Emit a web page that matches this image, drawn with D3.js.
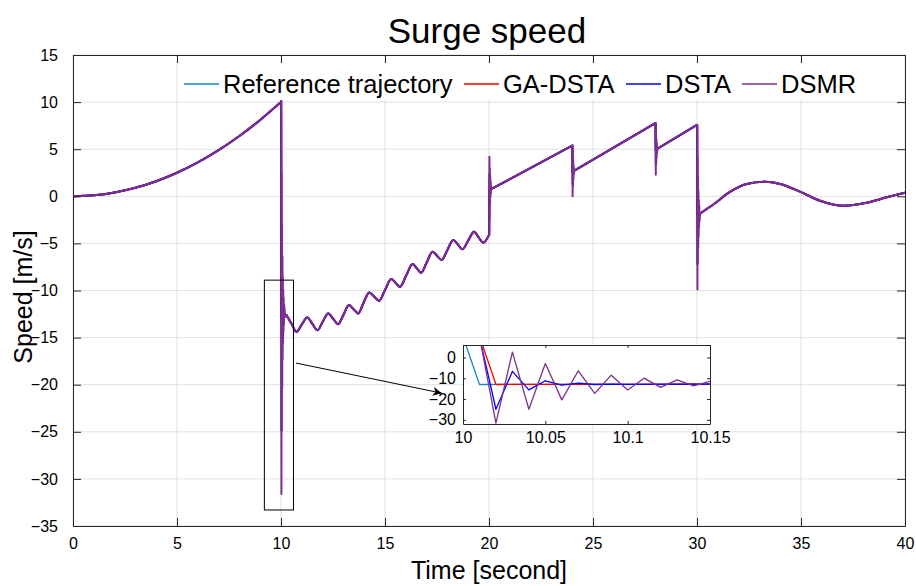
<!DOCTYPE html>
<html><head><meta charset="utf-8">
<script src="https://cdn.jsdelivr.net/npm/d3@7"></script>
<style>
body{margin:0;background:#fff}
svg{display:block}
text{font-family:"Liberation Sans",Arial,Helvetica,sans-serif;fill:#000}
</style>
</head><body>
<svg id="chart" width="916" height="586"></svg>
<script>
// ---------------- data ----------------
const xTicks = [0, 5, 10, 15, 20, 25, 30, 35, 40];
const yTicks = [-35, -30, -25, -20, -15, -10, -5, 0, 5, 10, 15];
const insetXTicks = [10, 10.05, 10.1, 10.15];
const insetXTickLabels = ["10", "10.05", "10.1", "10.15"];
const insetYTicks = [0, -10, -20, -30];
const seriesNames = ["Reference trajectory", "GA-DSTA", "DSTA", "DSMR"];
const seriesColors = ["#1188cc", "#ff0000", "#0000ff", "#7e2f8e"];

// reference trajectory (time in s, speed in m/s)
const refTime = [0, 1, 2, 3, 4, 5, 6, 7, 8, 9, 10,
  10.01, 10.05, 10.1, 10.15, 10.26, 10.5, 10.75, 11.0, 11.26, 11.51, 11.76, 12.01, 12.27, 12.51, 12.75,
  13.01, 13.27, 13.49, 13.71, 13.97, 14.24, 14.48, 14.72, 15.0, 15.3, 15.52, 15.72, 16.02, 16.33, 16.53,
  16.73, 17.01, 17.29, 17.5, 17.72, 18.0, 18.28, 18.5, 18.72, 19.0, 19.28, 19.5, 19.73, 20.0,
  20.01, 24.0, 24.01, 28.0, 28.01, 30.0, 30.01, 30.2, 30.8, 31.6, 32.39, 33.27, 34.0, 34.95, 35.91,
  37.03, 38.16, 39.12, 40.0];
const refSpeed = [0, 0.1, 0.4, 0.9, 1.6, 2.5, 3.6, 4.9, 6.4, 8.1, 10.0,
  -13.0, -12.95, -12.9, -12.85, -12.6, -13.5, -14.39, -13.6, -12.86, -13.55, -14.21, -13.3, -12.43, -13.0, -13.57,
  -12.55, -11.55, -12.0, -12.43, -11.3, -10.2, -10.65, -11.09, -9.95, -8.79, -9.2, -9.6, -8.4, -7.19, -7.65,
  -8.12, -7.0, -5.88, -6.3, -6.77, -5.7, -4.64, -5.1, -5.63, -4.7, -3.76, -4.35, -4.93, -4.1,
  0.65, 5.38, 2.6, 7.76, 4.92, 7.58, -2.0, -1.75, -0.85, 0.49, 1.31, 1.55, 1.31, 0.49, -0.47,
  -1.0, -0.68, -0.11, 0.38];

// controller transients after each reference switch
const gaTime = [10.00, 10.01, 10.02, 10.05, 10.1, 10.15, 10.2,
  20.00, 20.01, 20.02, 20.12,
  24.00, 24.01, 24.02, 24.1,
  28.00, 28.01, 28.02, 28.1,
  30.00, 30.01, 30.02, 30.15];
const gaSpeed = [10, 10.3, -13.0, -12.95, -12.9, -12.85, -12.7,
  -4.1, -4.1, 0.67, 0.78,
  5.38, 5.38, 2.62, 2.73,
  7.76, 7.76, 4.94, 5.05,
  7.58, 7.58, -2.0, -1.85];

const dstaTime = [10.00, 10.01, 10.02, 10.03, 10.04, 10.05, 10.06, 10.07, 10.08, 10.09, 10.10, 10.15, 10.2,
  20.00, 20.01, 20.02, 20.03, 20.04, 20.05, 20.06, 20.08, 20.12,
  24.00, 24.01, 24.02, 24.03, 24.04, 24.05, 24.07, 24.1,
  28.00, 28.01, 28.02, 28.03, 28.04, 28.05, 28.07, 28.1,
  30.00, 30.01, 30.02, 30.03, 30.04, 30.05, 30.06, 30.08, 30.15];
const dstaSpeed = [10, 10, -24.9, -6.7, -15.6, -11.2, -13.3, -12.3, -13.0, -12.8, -12.9, -12.85, -12.7,
  -4.1, -4.1, 2.4, -0.4, 1.4, 0.4, 0.9, 0.7, 0.78,
  5.38, 5.38, 1.3, 3.4, 2.2, 2.8, 2.6, 2.73,
  7.76, 7.76, 3.4, 5.9, 4.5, 5.1, 4.95, 5.05,
  7.58, 7.58, -7.2, 0.8, -4.0, -0.8, -2.6, -1.8, -1.85];

const dsmrTime = [10.00, 10.01, 10.02, 10.03, 10.04, 10.05, 10.06, 10.07, 10.08, 10.09, 10.10, 10.11, 10.12, 10.13, 10.14, 10.15, 10.2,
  20.00, 20.01, 20.02, 20.03, 20.04, 20.05, 20.06, 20.07, 20.08, 20.09, 20.10, 20.12,
  24.00, 24.01, 24.02, 24.03, 24.04, 24.05, 24.06, 24.07, 24.08, 24.1,
  28.00, 28.01, 28.02, 28.03, 28.04, 28.05, 28.06, 28.07, 28.08, 28.1,
  30.00, 30.01, 30.02, 30.03, 30.04, 30.05, 30.06, 30.07, 30.08, 30.09, 30.10, 30.11, 30.12, 30.15];
const dsmrSpeed = [10, 10.2, -31.6, 2.6, -24.9, -2.9, -20.4, -6.4, -17.3, -8.5, -15.6, -9.95, -14.4, -10.8, -13.7, -11.5, -12.7,
  -4.1, -4.1, 4.2, -2.2, 3.0, -0.9, 2.2, -0.1, 1.6, 0.3, 1.1, 0.78,
  5.38, 5.38, 0.0, 4.6, 1.1, 3.9, 1.8, 3.3, 2.3, 2.73,
  7.76, 7.76, 2.3, 6.9, 3.4, 6.1, 4.1, 5.6, 4.6, 5.05,
  7.58, 7.58, -9.9, 4.0, -7.1, 2.0, -5.5, 0.6, -4.3, -0.4, -3.3, -1.0, -2.7, -1.85];

// time windows in which the controllers deviate from the reference
const transientWindows = [[10, 10.2], [20, 20.12], [24, 24.1], [28, 28.1], [30, 30.15]];
// spans where the trajectory is a smooth curve (others are straight segments)
const smoothSpans = [[0, 10], [10.26, 20], [30.2, 40]];

// zoom rectangle and arrow annotation (data coordinates of the main axes)
const zoomRectT = [9.2, 10.6];
const zoomRectV = [-33.3, -8.9];
const arrowT = [10.72, 17.73];
const arrowV = [-17.7, -20.9];

// ---------------- build series ----------------
const EPS = 1e-9;
function buildSeries(tt, vv) {
  const inWin = t => transientWindows.some(([a, b]) => t >= a - EPS && t <= b + EPS);
  const pts = refTime.map((t, i) => ({t, v: refSpeed[i]})).filter(p => !inWin(p.t));
  tt.forEach((t, i) => pts.push({t, v: vv[i]}));
  pts.sort((a, b) => a.t - b.t);
  return pts;
}
const series = [
  refTime.map((t, i) => ({t, v: refSpeed[i]})),
  buildSeries(gaTime, gaSpeed),
  buildSeries(dstaTime, dstaSpeed),
  buildSeries(dsmrTime, dsmrSpeed)
];

function pathFor(pts, x, y, allowSmooth) {
  const isSmooth = (a, b) => allowSmooth && smoothSpans.some(([s, e]) => a.t >= s - EPS && b.t <= e + EPS);
  const runs = [];
  let cur = [pts[0]], curType = null;
  for (let i = 1; i < pts.length; i++) {
    const type = isSmooth(pts[i - 1], pts[i]);
    if (curType === null || type === curType) { cur.push(pts[i]); curType = type; }
    else { runs.push({pts: cur, smooth: curType}); cur = [pts[i - 1], pts[i]]; curType = type; }
  }
  runs.push({pts: cur, smooth: curType});
  let d = "";
  runs.forEach((r, k) => {
    const gen = d3.line().x(p => x(p.t)).y(p => y(p.v))
      .curve(r.smooth ? d3.curveMonotoneX : d3.curveLinear);
    let s = gen(r.pts);
    if (k > 0) s = "L" + s.slice(1);
    d += s;
  });
  return d;
}

// ---------------- main axes ----------------
const svg = d3.select("#chart");
const M = {left: 73, right: 905, top: 55, bottom: 526};
const x = d3.scaleLinear().domain([0, 40]).range([M.left, M.right]);
const y = d3.scaleLinear().domain([-35, 15]).range([M.bottom, M.top]);
const axisColor = "#262626";
const tickLen = 8;

svg.append("rect").attr("width", 916).attr("height", 586).attr("fill", "#fff");

// grid
const grid = svg.append("g").attr("stroke", "#e1e1e1").attr("stroke-width", 1);
xTicks.forEach(t => grid.append("line").attr("x1", x(t)).attr("x2", x(t)).attr("y1", M.top).attr("y2", M.bottom));
yTicks.forEach(t => grid.append("line").attr("y1", y(t)).attr("y2", y(t)).attr("x1", M.left).attr("x2", M.right));

// data lines
svg.append("clipPath").attr("id", "mainClip").append("rect")
  .attr("x", M.left).attr("y", M.top).attr("width", M.right - M.left).attr("height", M.bottom - M.top);
const lineG = svg.append("g").attr("clip-path", "url(#mainClip)");
series.forEach((pts, i) => {
  lineG.append("path").attr("d", pathFor(pts, x, y, true))
    .attr("fill", "none").attr("stroke", seriesColors[i]).attr("stroke-width", 2)
    .attr("stroke-linejoin", "round");
});

// axes with inward ticks on all sides
const axB = d3.axisBottom(x).tickValues(xTicks).tickSizeInner(-tickLen).tickSizeOuter(0).tickPadding(12);
const axT = d3.axisTop(x).tickValues(xTicks).tickSizeInner(-tickLen).tickSizeOuter(0).tickFormat("");
const axL = d3.axisLeft(y).tickValues(yTicks).tickSizeInner(-tickLen).tickSizeOuter(0).tickPadding(15);
const axR = d3.axisRight(y).tickValues(yTicks).tickSizeInner(-tickLen).tickSizeOuter(0).tickFormat("");
function styleAxis(g) {
  g.selectAll("path").attr("stroke", axisColor).attr("stroke-width", 1);
  g.selectAll("line").attr("stroke", axisColor).attr("stroke-width", 1);
  g.selectAll("text").attr("fill", axisColor).style("font-size", "16px")
    .style("font-family", '"Liberation Sans",Arial,Helvetica,sans-serif');
}
svg.append("g").attr("transform", `translate(0,${M.bottom})`).call(axB).call(styleAxis);
svg.append("g").attr("transform", `translate(0,${M.top})`).call(axT).call(styleAxis);
svg.append("g").attr("transform", `translate(${M.left},0)`).call(axL).call(styleAxis);
svg.append("g").attr("transform", `translate(${M.right},0)`).call(axR).call(styleAxis);

// titles
svg.append("text").attr("x", 487).attr("y", 43).attr("text-anchor", "middle")
  .style("font-size", "35px").text("Surge speed");
svg.append("text").attr("x", 489).attr("y", 579).attr("text-anchor", "middle")
  .style("font-size", "25px").text("Time [second]");
svg.append("text").attr("transform", "translate(32,297) rotate(-90)").attr("text-anchor", "middle")
  .style("font-size", "25px").text("Speed [m/s]");

// legend
const legend = svg.append("g");
legend.append("rect").attr("x", 180).attr("y", 63).attr("width", 682).attr("height", 37).attr("fill", "#fff");
const legLineX = [184, 464, 626, 742];
const legLineLen = 35;
seriesNames.forEach((name, i) => {
  legend.append("line").attr("x1", legLineX[i]).attr("x2", legLineX[i] + legLineLen)
    .attr("y1", 84).attr("y2", 84).attr("stroke", seriesColors[i]).attr("stroke-width", 1.5);
  legend.append("text").attr("x", legLineX[i] + legLineLen + 4).attr("y", 93)
    .style("font-size", "25.5px").text(name);
});

// zoom rectangle and arrow
svg.append("rect").attr("x", x(zoomRectT[0])).attr("y", y(zoomRectV[1]))
  .attr("width", x(zoomRectT[1]) - x(zoomRectT[0])).attr("height", y(zoomRectV[0]) - y(zoomRectV[1]))
  .attr("fill", "none").attr("stroke", "#000").attr("stroke-width", 1);
svg.append("defs").append("marker").attr("id", "arrowHead")
  .attr("viewBox", "0 0 10 10").attr("refX", 10).attr("refY", 5)
  .attr("markerWidth", 13).attr("markerHeight", 9).attr("markerUnits", "userSpaceOnUse")
  .attr("orient", "auto")
  .append("path").attr("d", "M0,0 L10,5 L0,10 L3,5 Z").attr("fill", "#000");
svg.append("line").attr("x1", x(arrowT[0])).attr("y1", y(arrowV[0]))
  .attr("x2", x(arrowT[1])).attr("y2", y(arrowV[1]))
  .attr("stroke", "#000").attr("stroke-width", 1).attr("marker-end", "url(#arrowHead)");

// ---------------- inset axes ----------------
const I = {left: 463, right: 710, top: 345, bottom: 424};
const xi = d3.scaleLinear().domain([10, 10.15]).range([I.left, I.right]);
const yi = d3.scaleLinear().domain([-32, 6]).range([I.bottom, I.top]);
svg.append("rect").attr("x", I.left).attr("y", I.top).attr("width", I.right - I.left)
  .attr("height", I.bottom - I.top).attr("fill", "#fff");
svg.append("clipPath").attr("id", "insetClip").append("rect")
  .attr("x", I.left).attr("y", I.top).attr("width", I.right - I.left).attr("height", I.bottom - I.top);
const insetG = svg.append("g").attr("clip-path", "url(#insetClip)");
series.forEach((pts, i) => {
  const sub = pts.filter(p => p.t >= 9.9 && p.t <= 10.3);
  insetG.append("path").attr("d", pathFor(sub, xi, yi, false))
    .attr("fill", "none").attr("stroke", seriesColors[i]).attr("stroke-width", 1.3)
    .attr("stroke-linejoin", "round");
});
const iTick = 3;
const iaxB = d3.axisBottom(xi).tickValues(insetXTicks).tickFormat((d, i) => insetXTickLabels[i])
  .tickSizeInner(-iTick).tickSizeOuter(0).tickPadding(8);
const iaxT = d3.axisTop(xi).tickValues(insetXTicks).tickSizeInner(-iTick).tickSizeOuter(0).tickFormat("");
const iaxL = d3.axisLeft(yi).tickValues(insetYTicks).tickSizeInner(-iTick).tickSizeOuter(0).tickPadding(7);
const iaxR = d3.axisRight(yi).tickValues(insetYTicks).tickSizeInner(-iTick).tickSizeOuter(0).tickFormat("");
svg.append("g").attr("transform", `translate(0,${I.bottom})`).call(iaxB).call(styleAxis);
svg.append("g").attr("transform", `translate(0,${I.top})`).call(iaxT).call(styleAxis);
svg.append("g").attr("transform", `translate(${I.left},0)`).call(iaxL).call(styleAxis);
svg.append("g").attr("transform", `translate(${I.right},0)`).call(iaxR).call(styleAxis);
</script>
</body></html>
